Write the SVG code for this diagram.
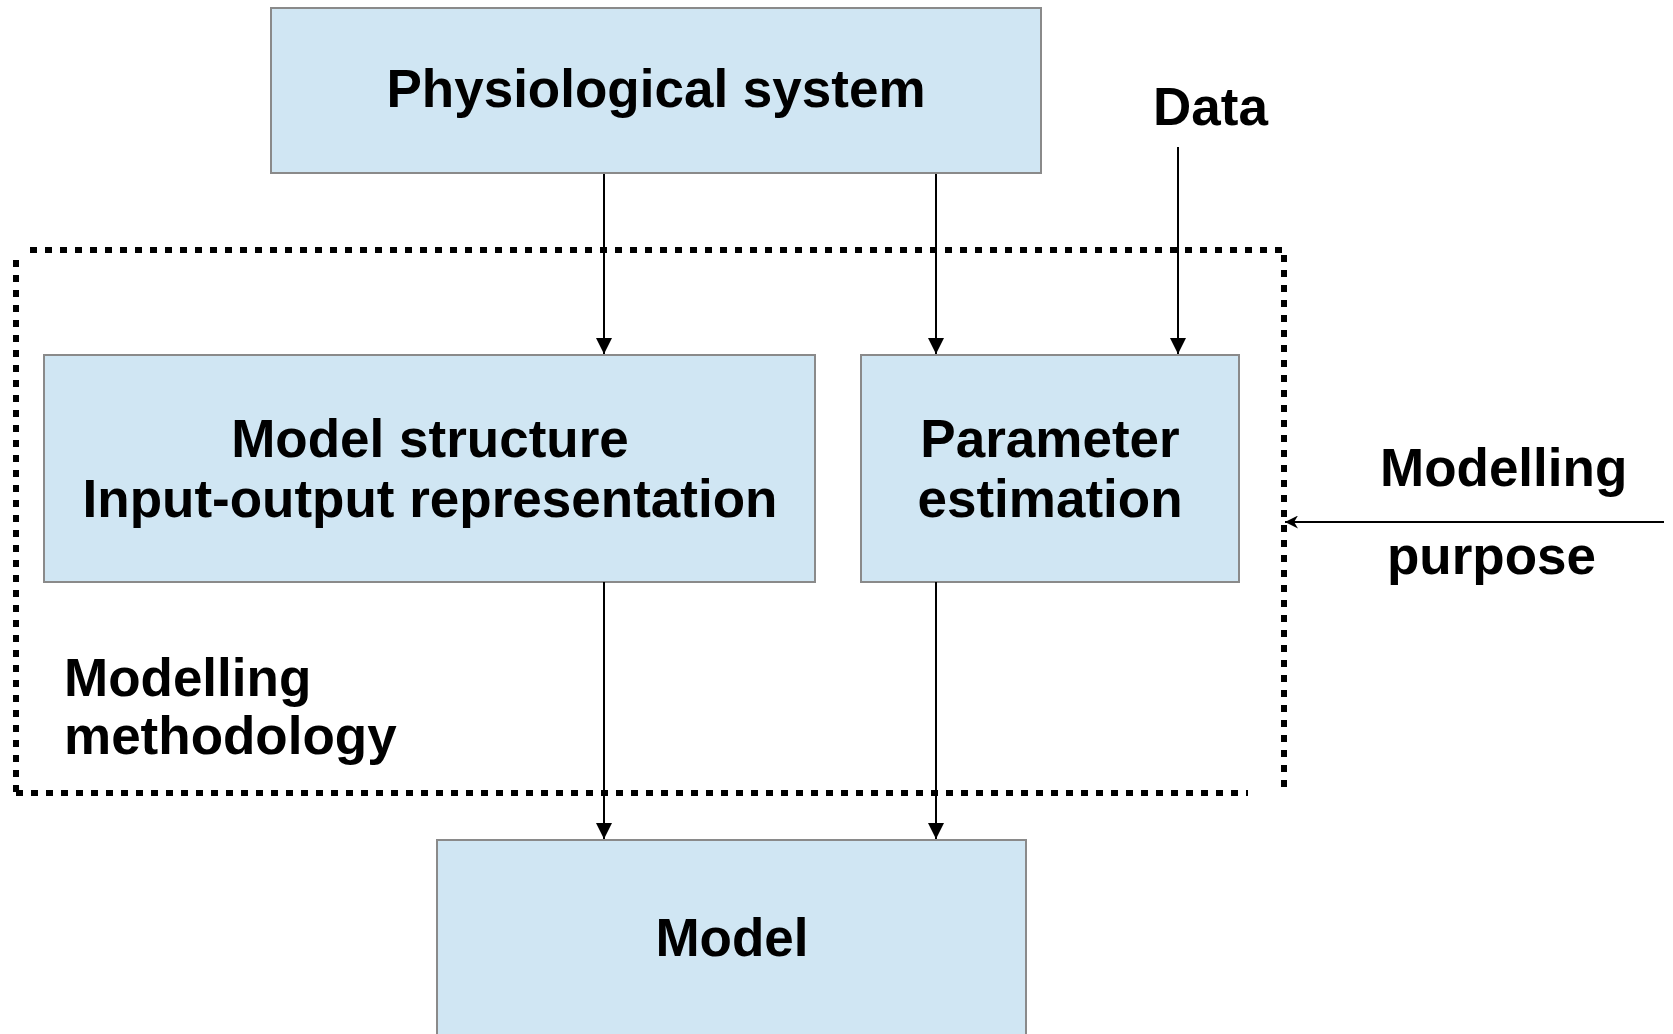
<svg xmlns="http://www.w3.org/2000/svg" width="1673" height="1034" viewBox="0 0 1673 1034">
<style>
.box{fill:#d0e6f3;stroke:#8a8a8a;stroke-width:2}
.t{font-family:"Liberation Sans",Arial,sans-serif;font-weight:bold;font-size:53px;fill:#000}
.c{text-anchor:middle}
.ln{stroke:#000;stroke-width:2;fill:none}
.dot{stroke:#000;stroke-width:6;fill:none;stroke-dasharray:7 8}
</style>
<defs>
<marker id="ah" viewBox="0 0 10 10" refX="10" refY="5" markerWidth="8" markerHeight="8" orient="auto" markerUnits="strokeWidth">
<path d="M0,0 L10,5 L0,10 z" fill="#000"/>
</marker>
<marker id="ahs" viewBox="0 0 10 10" refX="10" refY="5" markerWidth="6.5" markerHeight="6.5" orient="auto" markerUnits="strokeWidth">
<path d="M0,0 L10,5 L0,10 L3,5 z" fill="#000"/>
</marker>
</defs>
<rect width="1673" height="1034" fill="#fff"/>
<g id="methodology-frame">
<line class="dot" x1="30" y1="250" x2="1284" y2="250"/>
<line class="dot" x1="1284" y1="255" x2="1284" y2="794"/>
<line class="dot" x1="16" y1="260" x2="16" y2="792"/>
<line class="dot" x1="16" y1="793" x2="1248" y2="793"/>
<text class="t" x="64" y="696">Modelling</text>
<text class="t" x="64" y="754">methodology</text>
</g>
<g id="physiological-system">
<rect class="box" x="271" y="8" width="770" height="165"/>
<text class="t c" x="656" y="107">Physiological system</text>
</g>
<g id="data">
<text class="t" x="1153" y="125">Data</text>
</g>
<g id="model-structure">
<rect class="box" x="44" y="355" width="771" height="227"/>
<text class="t c" x="430" y="457">Model structure</text>
<text class="t c" x="430" y="517">Input-output representation</text>
</g>
<g id="parameter-estimation">
<rect class="box" x="861" y="355" width="378" height="227"/>
<text class="t c" x="1050" y="457">Parameter</text>
<text class="t c" x="1050" y="517">estimation</text>
</g>
<g id="modelling-purpose">
<text class="t" x="1380" y="486">Modelling</text>
<text class="t" x="1387" y="574">purpose</text>
</g>
<g id="model">
<rect class="box" x="437" y="840" width="589" height="200"/>
<text class="t c" x="732" y="956">Model</text>
</g>
<g id="connectors">
<line class="ln" x1="604" y1="174" x2="604" y2="354" marker-end="url(#ah)"/>
<line class="ln" x1="936" y1="174" x2="936" y2="354" marker-end="url(#ah)"/>
<line class="ln" x1="1178" y1="147" x2="1178" y2="354" marker-end="url(#ah)"/>
<line class="ln" x1="604" y1="582" x2="604" y2="839" marker-end="url(#ah)"/>
<line class="ln" x1="936" y1="582" x2="936" y2="839" marker-end="url(#ah)"/>
<line class="ln" x1="1664" y1="522" x2="1285" y2="522" marker-end="url(#ahs)"/>
</g>
</svg>
